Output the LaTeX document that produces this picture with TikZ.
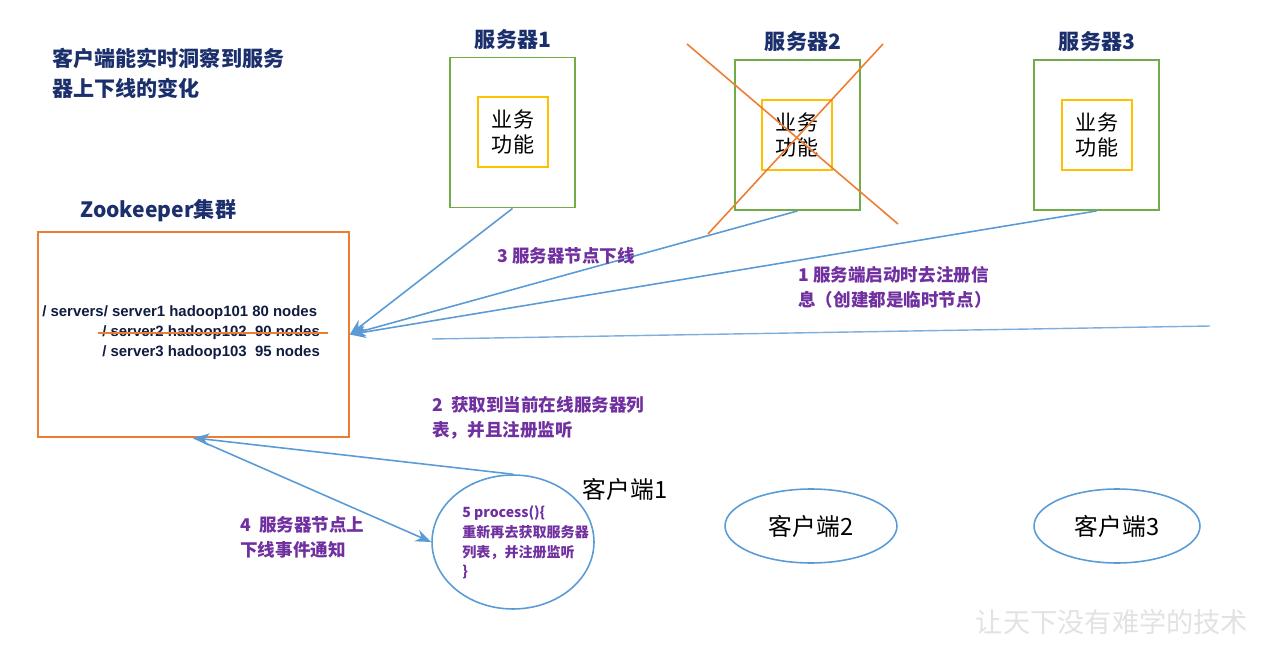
\documentclass[tikz,border=0pt]{standalone}
\usepackage{fontspec}
\setmainfont{Liberation Sans}
\newfontfamily\cjk{Noto Sans CJK SC}
\usetikzlibrary{arrows.meta,positioning,shapes.geometric}
\definecolor{titlenavy}{HTML}{1A2F6B}
\definecolor{notepurple}{HTML}{7030A0}
\definecolor{boxgreen}{HTML}{70AD47}
\definecolor{boxyellow}{HTML}{FFC000}
\definecolor{zkorange}{HTML}{ED7D31}
\definecolor{linkblue}{HTML}{5B9BD5}
\definecolor{markgray}{HTML}{E2E2E2}

\begin{document}
\begin{tikzpicture}[x=0.02cm,y=-0.02cm,
    serverbox/.style={draw=boxgreen,line width=1.1pt,minimum width=2.5cm,minimum height=3cm,inner sep=0pt},
    funcbox/.style={draw=boxyellow,line width=1pt,minimum width=1.4cm,minimum height=1.4cm,inner sep=0pt,
      align=center,font=\cjk\fontsize{12}{14.7}\selectfont},
    heading/.style={text=titlenavy,inner sep=0pt,font=\cjk\bfseries\fontsize{12}{17}\selectfont},
    note/.style={text=notepurple,inner sep=0pt,anchor=west,align=left,font=\cjk\bfseries\fontsize{10}{14.3}\selectfont},
    zkline/.style={text=titlenavy!60!black,inner sep=0pt,anchor=west,font=\bfseries\fontsize{8.5}{10}\selectfont},
    client/.style={ellipse,draw=linkblue,line width=0.9pt,inner sep=0pt},
    link/.style={draw=linkblue,line width=0.9pt,-{Stealth[length=9pt,width=7pt]}},
    cross/.style={draw=zkorange,line width=0.9pt}]
  \useasboundingbox (0,0) rectangle (1274,651);

  % title at the top left
  \node[heading,anchor=west,align=left] (title) at (52,73) {客户端能实时洞察到服务\\器上下线的变化};

  % three servers
  \node[serverbox] (srvone) at (512.5,132.5) {};
  \node[serverbox] (srvtwo) at (797.5,135) {};
  \node[serverbox] (srvthree) at (1096.5,135) {};
  \node[funcbox] (funcone) at (513,132) {业务\\功能};
  \node[funcbox] (functwo) at (797,135) {业务\\功能};
  \node[funcbox] (functhree) at (1097,135) {业务\\功能};
  \node[heading] (srvonetitle) at (513,40) {服务器1};
  \node[heading] (srvtwotitle) at (803,42) {服务器2};
  \node[heading] (srvthreetitle) at (1097,42) {服务器3};
  \draw[cross] (687,44) -- (898,224);
  \draw[cross] (883,44) -- (708,234);

  % zookeeper cluster
  \node[heading,anchor=west] (zktitle) at (80,211) {Zookeeper集群};
  \node[draw=zkorange,line width=1pt,minimum width=6.22cm,minimum height=4.1cm,inner sep=0pt] (zk) at (193.5,334.5) {};
  \node[zkline] (zkone) at (42,313) {/ servers/ server1 hadoop101 80 nodes};
  \node[zkline] (zktwo) at (102,333) {/ server2 hadoop102 \ 90 nodes};
  \node[zkline] (zkthree) at (102,353) {/ server3 hadoop103 \ 95 nodes};
  \draw[cross] (98,333) -- (328,333);

  % clients
  \node[client,minimum width=3.24cm,minimum height=2.68cm] (clione) at (513,542) {};
  \node[client,minimum width=3.44cm,minimum height=1.48cm,font=\cjk\fontsize{13.5}{16}\selectfont] (clitwo) at (811,526) {客户端2};
  \node[client,minimum width=3.32cm,minimum height=1.48cm,font=\cjk\fontsize{13.5}{16}\selectfont] (clithree) at (1117,526) {客户端3};
  \node[inner sep=0pt,font=\cjk\fontsize{13.5}{16}\selectfont] (clionetitle) at (625,489) {客户端1};
  \node[note,font=\cjk\bfseries\fontsize{8}{11.3}\selectfont] (process) at (462,542.5) {5 process()\{\\重新再去获取服务器\\列表，并注册监听\\\}};

  % connectors
  \draw[link] (srvone.south) -- (zk.east);
  \draw[link] (srvtwo.south) -- (zk.east);
  \draw[link] (srvthree.south) -- (zk.east);
  \draw[link] (clione.north) -- (zk.south);
  \draw[link] (zk.south) -- (clione.west);
  \coordinate (splitl) at (432,339);
  \coordinate (splitr) at (1210,326);
  \draw[linkblue!80,line width=0.8pt] (splitl) -- (splitr);

  % step notes
  \node[note] (stepthree) at (497,256) {3 服务器节点下线};
  \node[note] (stepone) at (798,287.5) {1 服务端启动时去注册信\\息（创建都是临时节点）};
  \node[note] (steptwo) at (432,418) {2 \ 获取到当前在线服务器列\\表，并且注册监听};
  \node[note] (stepfour) at (240,537) {4 \ 服务器节点上\\下线事件通知};

  \node[text=markgray,inner sep=0pt,font=\cjk\fontsize{15.5}{18}\selectfont] (mark) at (1112,622) {让天下没有难学的技术};
\end{tikzpicture}
\end{document}
